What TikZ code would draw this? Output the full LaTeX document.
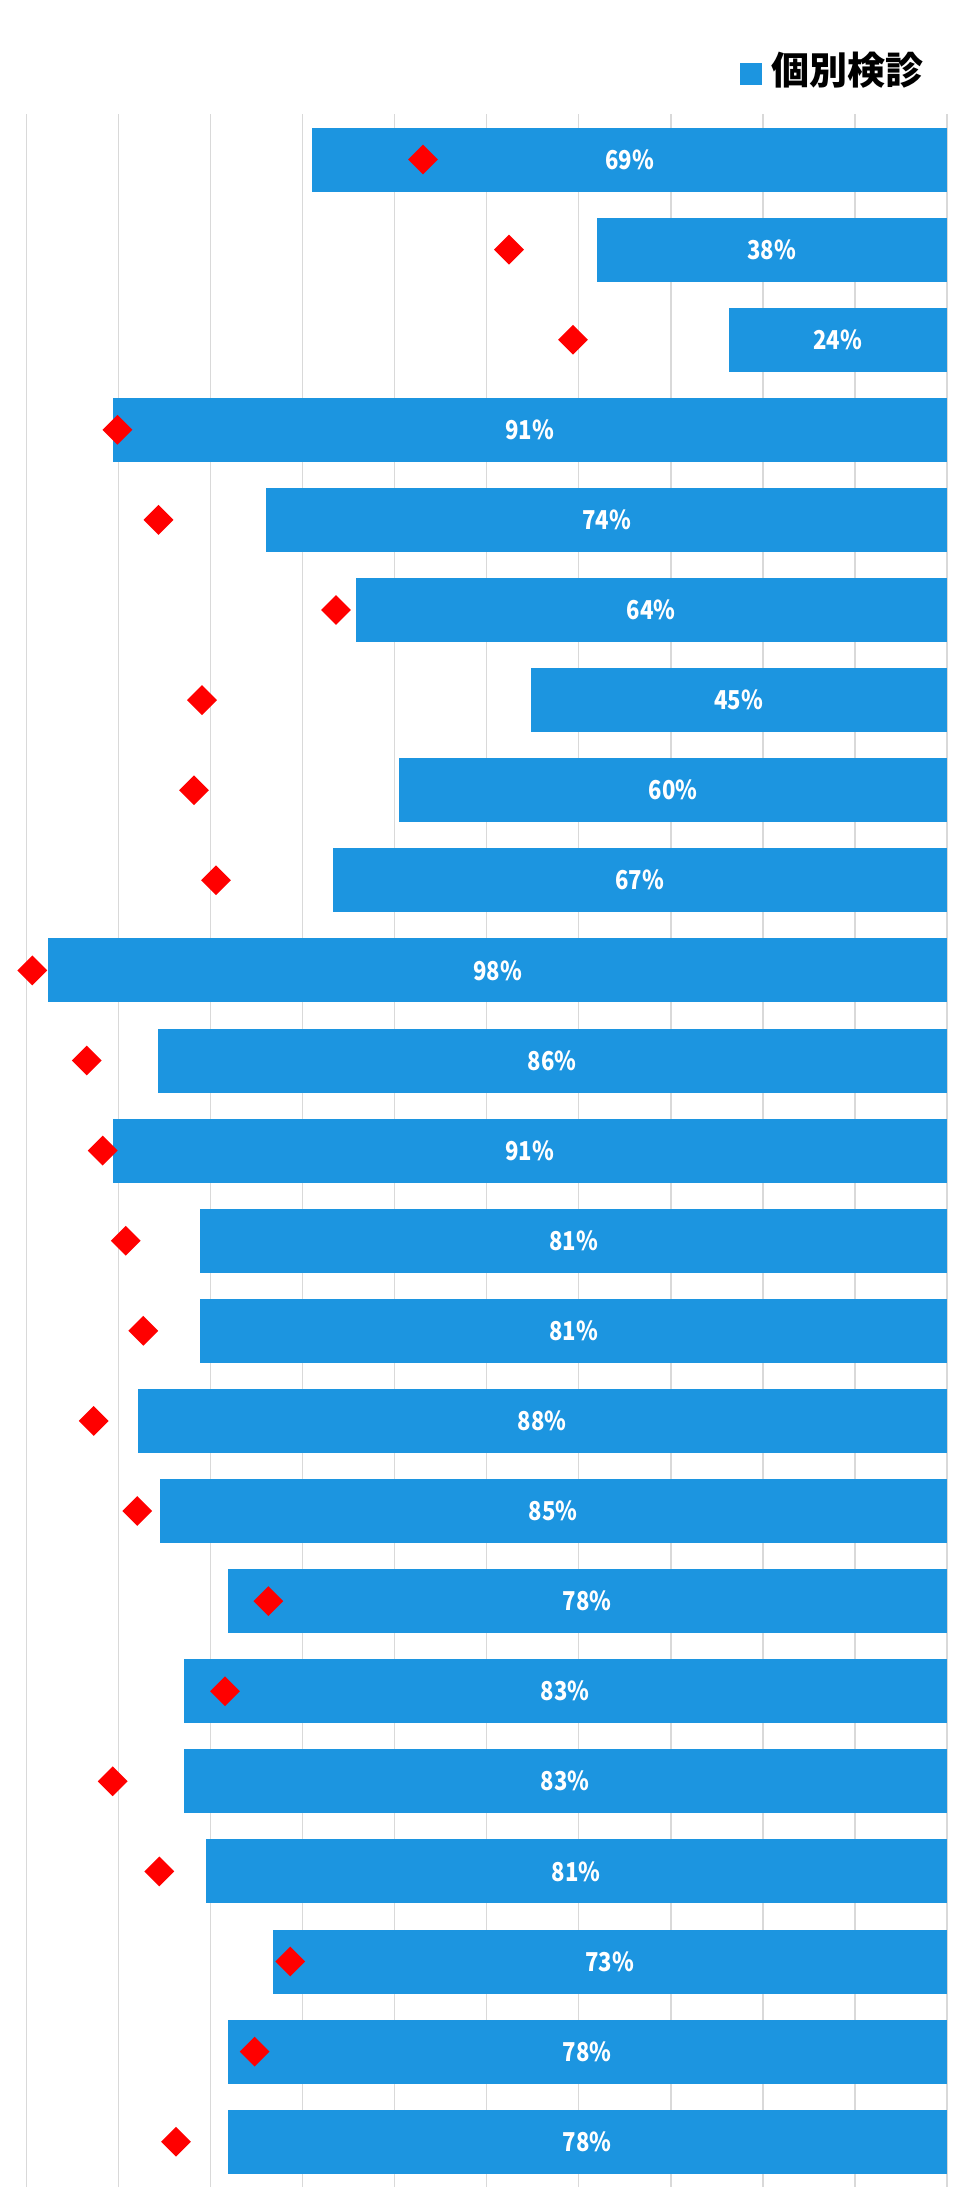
\documentclass[tikz,border=0pt]{standalone}
\usepackage{fontspec}
\setmainfont{Noto Sans CJK JP}
\newfontfamily\pctfont{Noto Sans CJK JP}[FakeStretch=0.85]
\usetikzlibrary{shapes.geometric}
\definecolor{barblue}{HTML}{1C95E0}
\definecolor{gridgray}{HTML}{D9D9D9}

\begin{document}
\begin{tikzpicture}
[
x=1pt,y=-1pt,
bar/.style={fill=barblue,anchor=east,inner sep=0pt,minimum height=64pt,minimum width=#1*9.207pt,text=white,font=\pctfont\fontsize{26}{26}\selectfont\bfseries},
rate/.style={diamond,fill=red,inner sep=0pt,minimum size=30pt},
grid line/.style={draw=gridgray,line width=1.5pt},
]
\useasboundingbox (0,0) rectangle (968,2206);

%Draw the grid
\draw[grid line] (26.3,114) -- (26.3,2187);
\draw[grid line] (118.4,114) -- (118.4,2187);
\draw[grid line] (210.4,114) -- (210.4,2187);
\draw[grid line] (302.5,114) -- (302.5,2187);
\draw[grid line] (394.6,114) -- (394.6,2187);
\draw[grid line] (486.7,114) -- (486.7,2187);
\draw[grid line] (578.7,114) -- (578.7,2187);
\draw[grid line] (670.8,114) -- (670.8,2187);
\draw[grid line] (762.9,114) -- (762.9,2187);
\draw[grid line] (855.0,114) -- (855.0,2187);
\draw[grid line] (947.0,114) -- (947.0,2187);

%Legend
\node[fill=barblue,inner sep=0pt,minimum size=22pt] (key) at (750.5,73.5) {};
\node[anchor=west,inner sep=0pt,font=\fontsize{38}{38}\selectfont\bfseries] (leg) at (771,70) {個別検診};

%Place the bars
\node[bar=68.9] (b1) at (947,159.5) {69\%};
\node[bar=38.0] (b2) at (947,249.6) {38\%};
\node[bar=23.7] (b3) at (947,339.7) {24\%};
\node[bar=90.6] (b4) at (947,429.8) {91\%};
\node[bar=73.9] (b5) at (947,519.9) {74\%};
\node[bar=64.2] (b6) at (947,610.0) {64\%};
\node[bar=45.2] (b7) at (947,700.1) {45\%};
\node[bar=59.5] (b8) at (947,790.2) {60\%};
\node[bar=66.7] (b9) at (947,880.3) {67\%};
\node[bar=97.6] (b10) at (947,970.4) {98\%};
\node[bar=85.7] (b11) at (947,1060.5) {86\%};
\node[bar=90.6] (b12) at (947,1150.6) {91\%};
\node[bar=81.1] (b13) at (947,1240.7) {81\%};
\node[bar=81.1] (b14) at (947,1330.8) {81\%};
\node[bar=87.9] (b15) at (947,1420.9) {88\%};
\node[bar=85.5] (b16) at (947,1511.0) {85\%};
\node[bar=78.1] (b17) at (947,1601.1) {78\%};
\node[bar=82.9] (b18) at (947,1691.2) {83\%};
\node[bar=82.9] (b19) at (947,1781.3) {83\%};
\node[bar=80.5] (b20) at (947,1871.4) {81\%};
\node[bar=73.2] (b21) at (947,1961.5) {73\%};
\node[bar=78.1] (b22) at (947,2051.6) {78\%};
\node[bar=78.1] (b23) at (947,2141.7) {78\%};

%Place the markers
\node[rate] (m1) at (423,159.5) {};
\node[rate] (m2) at (509,249.6) {};
\node[rate] (m3) at (573,339.7) {};
\node[rate] (m4) at (117.4,429.8) {};
\node[rate] (m5) at (158.5,519.9) {};
\node[rate] (m6) at (336,610.0) {};
\node[rate] (m7) at (202,700.1) {};
\node[rate] (m8) at (194,790.2) {};
\node[rate] (m9) at (216,880.3) {};
\node[rate] (m10) at (32.3,970.4) {};
\node[rate] (m11) at (86.7,1060.5) {};
\node[rate] (m12) at (102.7,1150.6) {};
\node[rate] (m13) at (125.7,1240.7) {};
\node[rate] (m14) at (143.3,1330.8) {};
\node[rate] (m15) at (93.7,1420.9) {};
\node[rate] (m16) at (137.3,1511.0) {};
\node[rate] (m17) at (268.3,1601.1) {};
\node[rate] (m18) at (225,1691.2) {};
\node[rate] (m19) at (112.7,1781.3) {};
\node[rate] (m20) at (159.3,1871.4) {};
\node[rate] (m21) at (290.3,1961.5) {};
\node[rate] (m22) at (254.7,2051.6) {};
\node[rate] (m23) at (176,2141.7) {};
\end{tikzpicture}
\end{document}
